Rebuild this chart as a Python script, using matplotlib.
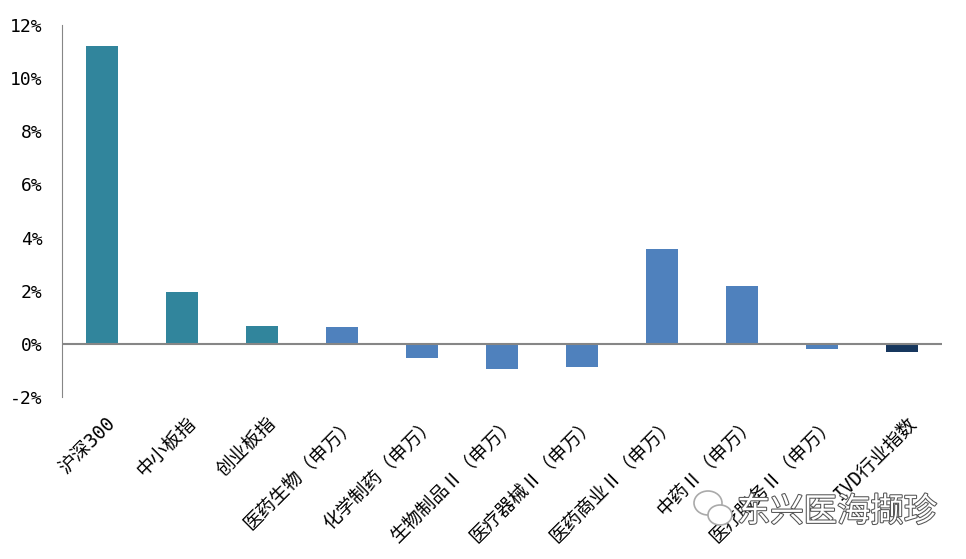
import numpy as np
import matplotlib
matplotlib.use("Agg")
import matplotlib.pyplot as plt
import matplotlib.transforms as mtransforms
from matplotlib.patches import Ellipse
import matplotlib.patheffects as pe

plt.rcParams['font.family'] = ['Noto Sans CJK SC', 'DejaVu Sans']

# 区间涨跌幅
categories = ["沪深300", "中小板指", "创业板指", "医药生物（申万）", "化学制药（申万）",
              "生物制品Ⅱ（申万）", "医疗器械Ⅱ（申万）", "医药商业Ⅱ（申万）",
              "中药Ⅱ（申万）", "医疗服务Ⅱ（申万）", "IVD行业指数"]
values = [11.2, 1.96, 0.68, 0.64, -0.53, -0.94, -0.86, 3.57, 2.18, -0.18, -0.29]
groups = ["index"] * 3 + ["sector"] * 7 + ["ivd"]
yticks = [-2, 0, 2, 4, 6, 8, 10, 12]

colors = {"index": "#31859C", "sector": "#4F81BD", "ivd": "#17375E"}

fig = plt.figure(figsize=(9.66, 5.59), dpi=100)
ax = fig.add_axes([62 / 966, 1 - 397 / 559, 880 / 966, 372 / 559])

x = np.arange(len(categories))
ax.bar(x, values, width=0.4, color=[colors[g] for g in groups], zorder=2)

ax.set_xlim(-0.5, len(categories) - 0.5)
ax.set_ylim(-2, 12)
ax.set_yticks(yticks)
ax.set_yticklabels([f"{v}%" for v in yticks], family="DejaVu Sans Mono", fontsize=13)
ax.tick_params(axis="y", length=0, pad=14)

ax.set_xticks(x)
ax.set_xticklabels(categories, rotation=45, ha="right", va="top", rotation_mode="anchor",
                   fontsize=13.5, family=["DejaVu Sans Mono", "Noto Sans CJK SC"])
ax.tick_params(axis="x", length=0, pad=12)
shift = mtransforms.ScaledTranslation(4 / 100, 0, fig.dpi_scale_trans)
for lab in ax.get_xticklabels():
    lab.set_transform(lab.get_transform() + shift)

for s in ["top", "right", "bottom"]:
    ax.spines[s].set_visible(False)
ax.spines["left"].set_color("#868686")
ax.axhline(0, color="#868686", lw=1.5, zorder=3)

# watermark
fig.text(737 / 966, 1 - 512 / 559, "东兴医海撷珍", fontsize=24, color="white",
         va="center", ha="left",
         path_effects=[pe.withStroke(linewidth=1.5, foreground="#555555")])
fig.patches.append(Ellipse((708 / 966, 1 - 503 / 559), 28 / 966, 24 / 559,
                           transform=fig.transFigure, fill=False, ec="#aaaaaa", lw=1.2))
fig.patches.append(Ellipse((720 / 966, 1 - 515 / 559), 24 / 966, 20 / 559,
                           transform=fig.transFigure, fill=True, fc="white", ec="#aaaaaa", lw=1.2))

fig.savefig("out.png", dpi=100)
